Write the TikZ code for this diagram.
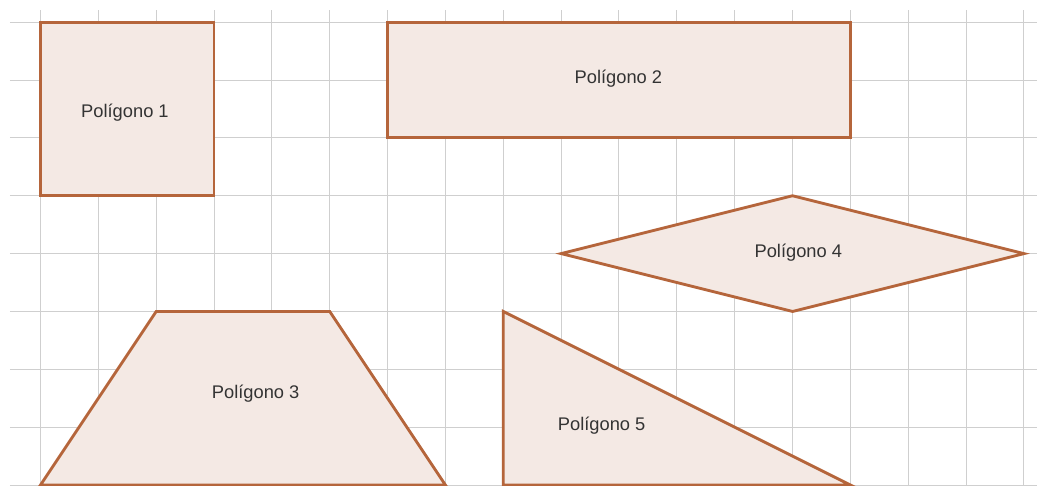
\documentclass[tikz,border=0pt]{standalone}
\usepackage{fontspec}
\setmainfont{Liberation Sans}
\definecolor{poly}{HTML}{B5653B}
\definecolor{polyfill}{HTML}{F4E9E4}
\definecolor{gridgray}{HTML}{CFCFCF}
\definecolor{labelgray}{HTML}{333333}

\begin{document}
\begin{tikzpicture}
	\tikzstyle{gridline} = [draw=gridgray, line width=0.5pt];
	\tikzstyle{polygon} = [draw=poly, fill=polyfill, line width=1.4pt, line join=miter];
	\tikzstyle{lbl} = [draw=none, fill=none, font=\fontsize{9}{11}\selectfont, text=labelgray];

	\useasboundingbox (-0.7,0) rectangle (17.226,8.384);

	\foreach \y in {0,...,8}
		\draw[gridline] (-0.53,\y) -- (17.226,\y);
	\foreach \x in {0,...,17}
		\draw[gridline] (\x,0) -- (\x,8.21);

	\filldraw[polygon] (0,5) rectangle (3,8);
	\filldraw[polygon] (6,6) rectangle (14,8);
	\filldraw[polygon] (9,4) -- (13,5) -- (17,4) -- (13,3) -- cycle;
	\filldraw[polygon] (0,0) -- (2,3) -- (5,3) -- (7,0) -- cycle;
	\filldraw[polygon] (8,3) -- (8,0) -- (14,0) -- cycle;

	\node[lbl] at (1.46, 6.44) (pone) {Polígono 1};
	\node[lbl] at (9.99, 7.02) (ptwo) {Polígono 2};
	\node[lbl] at (3.72, 1.58) (pthree) {Polígono 3};
	\node[lbl] at (13.1, 4.02) (pfour) {Polígono 4};
	\node[lbl] at (9.70, 1.02) (pfive) {Polígono 5};

\end{tikzpicture}
\end{document}
